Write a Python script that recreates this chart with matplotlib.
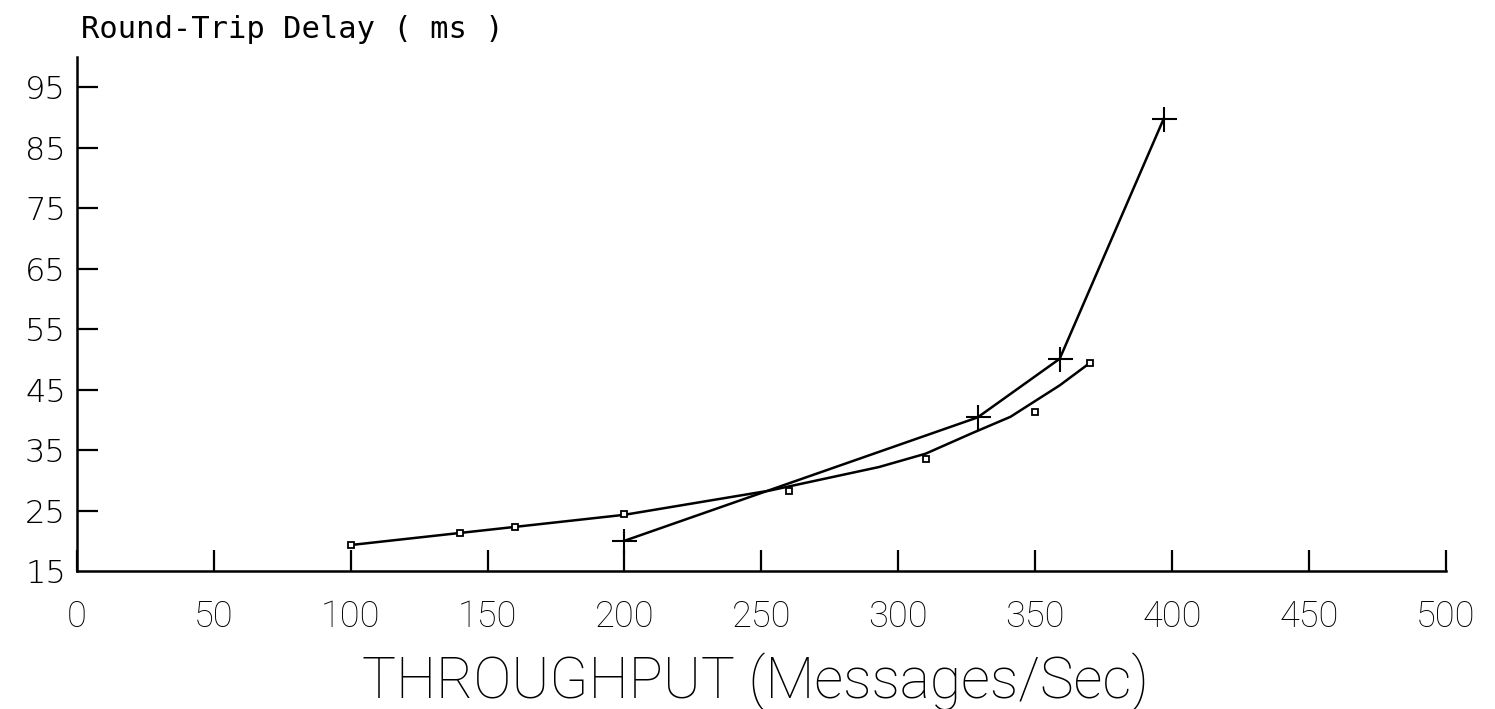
import matplotlib
matplotlib.use('Agg')
import matplotlib.pyplot as plt

# Measured points: square markers and the smoothed curve drawn through them
sq_x = [100, 140, 160, 200, 260, 310, 350, 370]
sq_y = [19.3, 21.3, 22.3, 24.4, 28.2, 33.5, 41.3, 49.4]

curve_x = [100, 140, 160, 200, 253, 293, 310, 327, 341, 359, 370]
curve_y = [19.3, 21.3, 22.3, 24.3, 28.3, 32.2, 34.4, 37.8, 40.5, 45.7, 49.4]

# Measured points: plus markers
plus_x = [200, 329, 359, 397]
plus_y = [20.0, 40.4, 50.1, 89.8]

x_ticks = [0, 50, 100, 150, 200, 250, 300, 350, 400, 450, 500]
y_ticks = [15, 25, 35, 45, 55, 65, 75, 85, 95]

plt.rcParams['font.family'] = ['Roboto', 'DejaVu Sans']
plt.rcParams['font.weight'] = 'light'

fig = plt.figure(figsize=(14.95, 7.09), dpi=100)
ax = fig.add_axes([0.0515, 0.1946, 0.9155, 0.725])

ax.plot(curve_x, curve_y, color='black', lw=1.8)
ax.plot(sq_x, sq_y, linestyle='none', marker='s', ms=4.5, mfc='white',
        mec='black', mew=1.3)
ax.plot(plus_x, plus_y, color='black', lw=1.8, marker='+', ms=18, mew=1.5)

ax.set_xlim(0, 500)
ax.set_ylim(15, 100)
ax.spines['top'].set_visible(False)
ax.spines['right'].set_visible(False)
ax.spines['left'].set_linewidth(1.8)
ax.spines['bottom'].set_linewidth(1.8)

ax.set_xticks(x_ticks)
ax.set_yticks(y_ticks)
ax.tick_params(axis='x', direction='in', length=15, width=1.6, pad=20)
ax.tick_params(axis='y', direction='in', length=15, width=1.6, pad=8)
ax.set_xticklabels([str(v) for v in x_ticks], fontsize=26, fontweight='light')
ax.set_yticklabels([str(v) for v in y_ticks], fontsize=23, fontweight='light',
                   family='DejaVu Sans')
for t in ax.yaxis.get_major_ticks()[:1]:
    t.tick1line.set_visible(False)

fig.text(0.505, 0.0155, 'THROUGHPUT (Messages/Sec)', fontsize=41, fontweight='light',
         ha='center', va='baseline')
fig.text(0.054, 0.946, 'Round-Trip Delay ( ms )', fontsize=22, fontweight='normal',
         family='DejaVu Sans Mono', va='baseline', ha='left')

fig.savefig('out.png', dpi=100)
